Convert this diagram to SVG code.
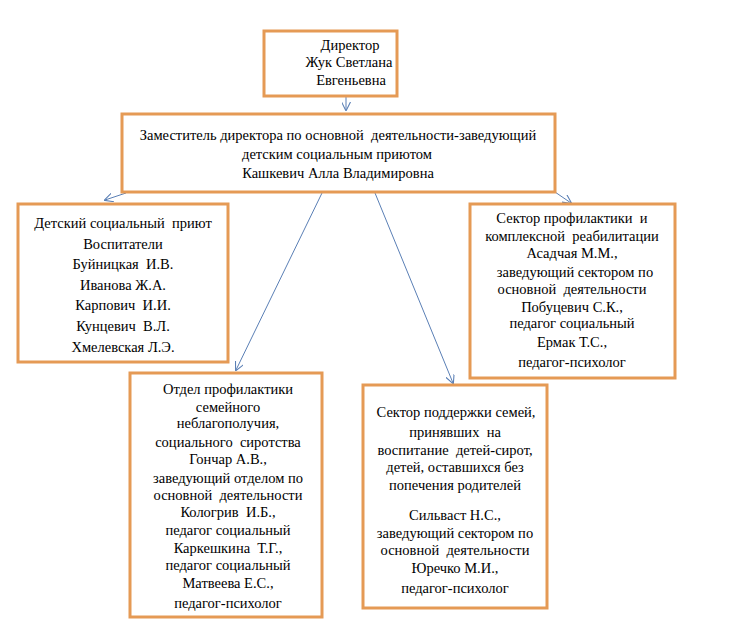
<svg xmlns="http://www.w3.org/2000/svg" width="737" height="634" viewBox="0 0 737 634" xml:space="preserve">
<defs>
<style>
.box{fill:#fff;stroke:#E59A55;stroke-width:3}
.t{font-family:'Liberation Serif','Times New Roman','DejaVu Serif',serif;font-size:14.5px;fill:#000;text-anchor:middle;white-space:pre}
.c{stroke:#5A7FB5;stroke-width:1;fill:none;marker-end:url(#ah)}
</style>
<marker id="ah" viewBox="0 0 10 10" refX="9" refY="5" markerWidth="9" markerHeight="9" markerUnits="userSpaceOnUse" orient="auto">
<path d="M0,0 L10,5 L0,10" fill="none" stroke="#5A7FB5" stroke-width="1.2"/>
</marker>
</defs>
<rect width="737" height="634" fill="#fff"/>
<g id="connectors">
<line class="c" x1="346" y1="97" x2="346" y2="110"/>
<line class="c" x1="126" y1="193" x2="105" y2="200"/>
<line class="c" x1="555" y1="192" x2="571" y2="203"/>
<line class="c" x1="322" y1="193" x2="236" y2="370"/>
<line class="c" x1="375" y1="193" x2="453" y2="383"/>
</g>
<g id="director">
<rect class="box" x="264" y="31" width="133" height="65"/>
<text class="t" x="350" y="50">Директор</text>
<text class="t" x="349" y="67">Жук Светлана</text>
<text class="t" x="351" y="85">Евгеньевна</text>
</g>
<g id="deputy">
<rect class="box" x="122" y="114" width="433" height="78"/>
<text class="t" x="338" y="140">Заместитель директора по основной  деятельности-заведующий</text>
<text class="t" x="337" y="159">детским социальным приютом</text>
<text class="t" x="338" y="178">Кашкевич Алла Владимировна</text>
</g>
<g id="shelter">
<rect class="box" x="18" y="204" width="210" height="158"/>
<text class="t" x="123" y="228">Детский социальный  приют</text>
<text class="t" x="123" y="249">Воспитатели</text>
<text class="t" x="123" y="269">Буйницкая  И.В.</text>
<text class="t" x="123" y="290">Иванова Ж.А.</text>
<text class="t" x="123" y="310">Карпович  И.И.</text>
<text class="t" x="123" y="331">Кунцевич  В.Л.</text>
<text class="t" x="123" y="352">Хмелевская Л.Э.</text>
</g>
<g id="rehab">
<rect class="box" x="470" y="204" width="205" height="174"/>
<text class="t" x="572" y="223">Сектор профилактики  и</text>
<text class="t" x="572" y="241">комплексной  реабилитации</text>
<text class="t" x="572" y="258">Асадчая М.М.,</text>
<text class="t" x="575" y="277">заведующий сектором по</text>
<text class="t" x="572" y="294">основной  деятельности</text>
<text class="t" x="572" y="312">Побуцевич С.К.,</text>
<text class="t" x="572" y="328">педагог социальный</text>
<text class="t" x="572" y="347">Ермак Т.С.,</text>
<text class="t" x="572" y="367">педагог-психолог</text>
</g>
<g id="department">
<rect class="box" x="130" y="373" width="192" height="244"/>
<text class="t" x="228" y="394">Отдел профилактики</text>
<text class="t" x="228" y="412">семейного</text>
<text class="t" x="228" y="428">неблагополучия,</text>
<text class="t" x="228" y="447">социального  сиротства</text>
<text class="t" x="228" y="464">Гончар А.В.,</text>
<text class="t" x="228" y="483">заведующий отделом по</text>
<text class="t" x="228" y="500">основной  деятельности</text>
<text class="t" x="228" y="517">Кологрив  И.Б.,</text>
<text class="t" x="228" y="535">педагог социальный</text>
<text class="t" x="228" y="553">Каркешкина  Т.Г.,</text>
<text class="t" x="228" y="570">педагог социальный</text>
<text class="t" x="228" y="588">Матвеева Е.С.,</text>
<text class="t" x="228" y="608">педагог-психолог</text>
</g>
<g id="families">
<rect class="box" x="363" y="385" width="184" height="223"/>
<text class="t" x="456" y="417">Сектор поддержки семей,</text>
<text class="t" x="455" y="437">принявших  на</text>
<text class="t" x="455" y="455">воспитание  детей-сирот,</text>
<text class="t" x="455" y="472">детей, оставшихся без</text>
<text class="t" x="455" y="490">попечения родителей</text>
<text class="t" x="455" y="520">Сильваст Н.С.,</text>
<text class="t" x="455" y="538">заведующий сектором по</text>
<text class="t" x="455" y="555">основной  деятельности</text>
<text class="t" x="455" y="573">Юречко М.И.,</text>
<text class="t" x="455" y="593">педагог-психолог</text>
</g>
</svg>
